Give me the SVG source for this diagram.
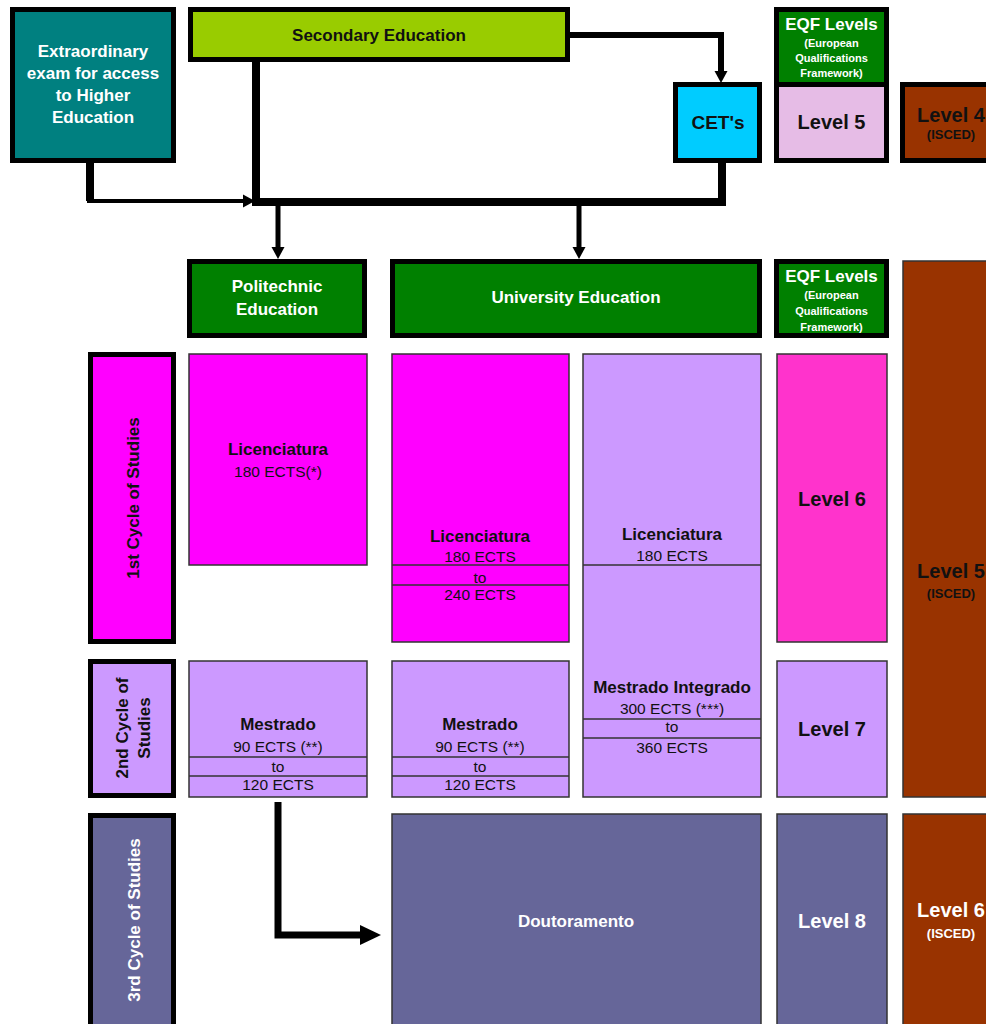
<svg xmlns="http://www.w3.org/2000/svg" width="986" height="1024" viewBox="0 0 986 1024">
<style>
.thick{stroke:#000;stroke-width:5}
.thin{stroke:#333;stroke-width:1.5}
text{font-family:"Liberation Sans",Arial,sans-serif;text-anchor:middle;fill:#111}
.b{font-weight:bold;font-size:17px}
.L{font-weight:bold;font-size:20px}
.r{font-size:15.5px}
.s{font-weight:bold;font-size:11px;fill:#fff}
.i{font-weight:bold;font-size:13px}
.w{fill:#fff}
.con{fill:none;stroke:#000}
</style>
<defs>
<marker id="ah" markerUnits="userSpaceOnUse" markerWidth="14" markerHeight="14" refX="0" refY="6.5" orient="auto" overflow="visible"><path d="M0,0 L12,6.5 L0,13 z" fill="#000"/></marker>
<marker id="ahb" markerUnits="userSpaceOnUse" markerWidth="22" markerHeight="22" refX="0" refY="10" orient="auto" overflow="visible"><path d="M0,0 L21,10 L0,20 z" fill="#000"/></marker>
</defs>
<rect width="986" height="1024" fill="#fff"/>

<g id="connectors">
<path class="con" d="M90,160 V201" stroke-width="8"/>
<path class="con" d="M87,201 H243" stroke-width="4" marker-end="url(#ah)"/>
<path class="con" d="M256,60 V206" stroke-width="8"/>
<path class="con" d="M252,202 H726" stroke-width="8"/>
<path class="con" d="M722,160 V206" stroke-width="8"/>
<path class="con" d="M568,35 H721 V71" stroke-width="6" marker-end="url(#ah)"/>
<path class="con" d="M278,206 V247" stroke-width="5" marker-end="url(#ah)"/>
<path class="con" d="M579,206 V247" stroke-width="5" marker-end="url(#ah)"/>
<path class="con" d="M278,802 V935 H360" stroke-width="7" marker-end="url(#ahb)"/>
</g>

<g id="extraordinary">
<rect class="thick" x="12.5" y="9.5" width="161" height="151" fill="#008080"/>
<text class="b w" x="93" y="57">Extraordinary</text>
<text class="b w" x="93" y="79">exam for access</text>
<text class="b w" x="93" y="101">to Higher</text>
<text class="b w" x="93" y="123">Education</text>
</g>

<g id="secondary">
<rect class="thick" x="190.5" y="9.5" width="377" height="50" fill="#99CC00"/>
<text class="b" x="379" y="41">Secondary Education</text>
</g>

<g id="cets">
<rect class="thick" x="675.5" y="84.5" width="84" height="76" fill="#00CCFF"/>
<text class="b" style="font-size:19px" x="718" y="129">CET's</text>
</g>

<g id="eqf-top">
<rect x="776.5" y="9.5" width="110" height="75" fill="#008000"/>
<rect x="776.5" y="84.5" width="110" height="76" fill="#E6BCE6"/>
<rect class="thick" x="776.5" y="9.5" width="110" height="151" fill="none"/>
<line class="thick" x1="776" y1="84.5" x2="887" y2="84.5"/>
<text class="b w" x="831.5" y="30">EQF Levels</text>
<text class="s" x="831.5" y="47">(European</text>
<text class="s" x="831.5" y="62">Qualifications</text>
<text class="s" x="831.5" y="77">Framework)</text>
<text class="L" x="831.5" y="129">Level 5</text>
</g>

<g id="isced-4">
<rect class="thick" x="902.5" y="84.5" width="100" height="76" fill="#993300"/>
<text class="L" x="951" y="122">Level 4</text>
<text class="i" x="951" y="139">(ISCED)</text>
</g>

<g id="politechnic">
<rect class="thick" x="189.5" y="261.5" width="175" height="74" fill="#008000"/>
<text class="b w" x="277" y="292">Politechnic</text>
<text class="b w" x="277" y="315">Education</text>
</g>

<g id="university">
<rect class="thick" x="392.5" y="261.5" width="367" height="74" fill="#008000"/>
<text class="b w" x="576" y="303">University Education</text>
</g>

<g id="eqf-2">
<rect class="thick" x="776.5" y="261.5" width="110" height="74" fill="#008000"/>
<text class="b w" x="831.5" y="282">EQF Levels</text>
<text class="s" x="831.5" y="299">(European</text>
<text class="s" x="831.5" y="315">Qualifications</text>
<text class="s" x="831.5" y="331">Framework)</text>
</g>

<g id="isced-5">
<rect class="thin" x="903" y="261" width="100" height="536" fill="#993300"/>
<text class="L" x="951" y="578">Level 5</text>
<text class="i" x="951" y="598">(ISCED)</text>
</g>

<g id="cycle-1">
<rect class="thick" x="90.5" y="354.5" width="83" height="287" fill="#FF00FF"/>
<text class="b" transform="translate(139,498) rotate(-90)">1st Cycle of Studies</text>
</g>

<g id="poli-licenciatura">
<rect class="thin" x="189" y="354" width="178" height="211" fill="#FF00FF"/>
<text class="b" x="278" y="455">Licenciatura</text>
<text class="r" x="278" y="477">180 ECTS(*)</text>
</g>

<g id="univ-licenciatura">
<rect class="thin" x="392" y="354" width="177" height="288" fill="#FF00FF"/>
<line class="thin" x1="392" y1="565" x2="569" y2="565"/>
<line class="thin" x1="392" y1="585" x2="569" y2="585"/>
<text class="b" x="480" y="542">Licenciatura</text>
<text class="r" x="480" y="562">180 ECTS</text>
<text class="r" x="480" y="583">to</text>
<text class="r" x="480" y="600">240 ECTS</text>
</g>

<g id="mestrado-integrado">
<rect class="thin" x="583" y="354" width="178" height="443" fill="#CC99FF"/>
<line class="thin" x1="583" y1="565" x2="761" y2="565"/>
<line class="thin" x1="583" y1="719" x2="761" y2="719"/>
<line class="thin" x1="583" y1="738" x2="761" y2="738"/>
<text class="b" x="672" y="540">Licenciatura</text>
<text class="r" x="672" y="561">180 ECTS</text>
<text class="b" x="672" y="693">Mestrado Integrado</text>
<text class="r" x="672" y="714">300 ECTS (***)</text>
<text class="r" x="672" y="732">to</text>
<text class="r" x="672" y="753">360 ECTS</text>
</g>

<g id="level-6">
<rect class="thin" x="777" y="354" width="110" height="288" fill="#FF33CC"/>
<text class="L" x="832" y="506">Level 6</text>
</g>

<g id="cycle-2">
<rect class="thick" x="90.5" y="661.5" width="83" height="134" fill="#CC99FF"/>
<text class="b" transform="translate(128,728) rotate(-90)">2nd Cycle of</text>
<text class="b" transform="translate(150,728) rotate(-90)">Studies</text>
</g>

<g id="poli-mestrado">
<rect class="thin" x="189" y="661" width="178" height="136" fill="#CC99FF"/>
<line class="thin" x1="189" y1="757" x2="367" y2="757"/>
<line class="thin" x1="189" y1="776" x2="367" y2="776"/>
<text class="b" x="278" y="730">Mestrado</text>
<text class="r" x="278" y="752">90 ECTS (**)</text>
<text class="r" x="278" y="772">to</text>
<text class="r" x="278" y="790">120 ECTS</text>
</g>

<g id="univ-mestrado">
<rect class="thin" x="392" y="661" width="177" height="136" fill="#CC99FF"/>
<line class="thin" x1="392" y1="757" x2="569" y2="757"/>
<line class="thin" x1="392" y1="776" x2="569" y2="776"/>
<text class="b" x="480" y="730">Mestrado</text>
<text class="r" x="480" y="752">90 ECTS (**)</text>
<text class="r" x="480" y="772">to</text>
<text class="r" x="480" y="790">120 ECTS</text>
</g>

<g id="level-7">
<rect class="thin" x="777" y="661" width="110" height="136" fill="#CC99FF"/>
<text class="L" x="832" y="736">Level 7</text>
</g>

<g id="cycle-3">
<rect class="thick" x="90.5" y="815.5" width="83" height="220" fill="#666699"/>
<text class="b w" transform="translate(140,920) rotate(-90)">3rd Cycle of Studies</text>
</g>

<g id="doutoramento">
<rect class="thin" x="392" y="814" width="369" height="220" fill="#666699"/>
<text class="b w" x="576" y="927">Doutoramento</text>
</g>

<g id="level-8">
<rect class="thin" x="777" y="814" width="110" height="220" fill="#666699"/>
<text class="L w" x="832" y="928">Level 8</text>
</g>

<g id="isced-6">
<rect class="thin" x="903" y="814" width="100" height="220" fill="#993300"/>
<text class="L w" x="951" y="917">Level 6</text>
<text class="i w" x="951" y="938">(ISCED)</text>
</g>
</svg>
